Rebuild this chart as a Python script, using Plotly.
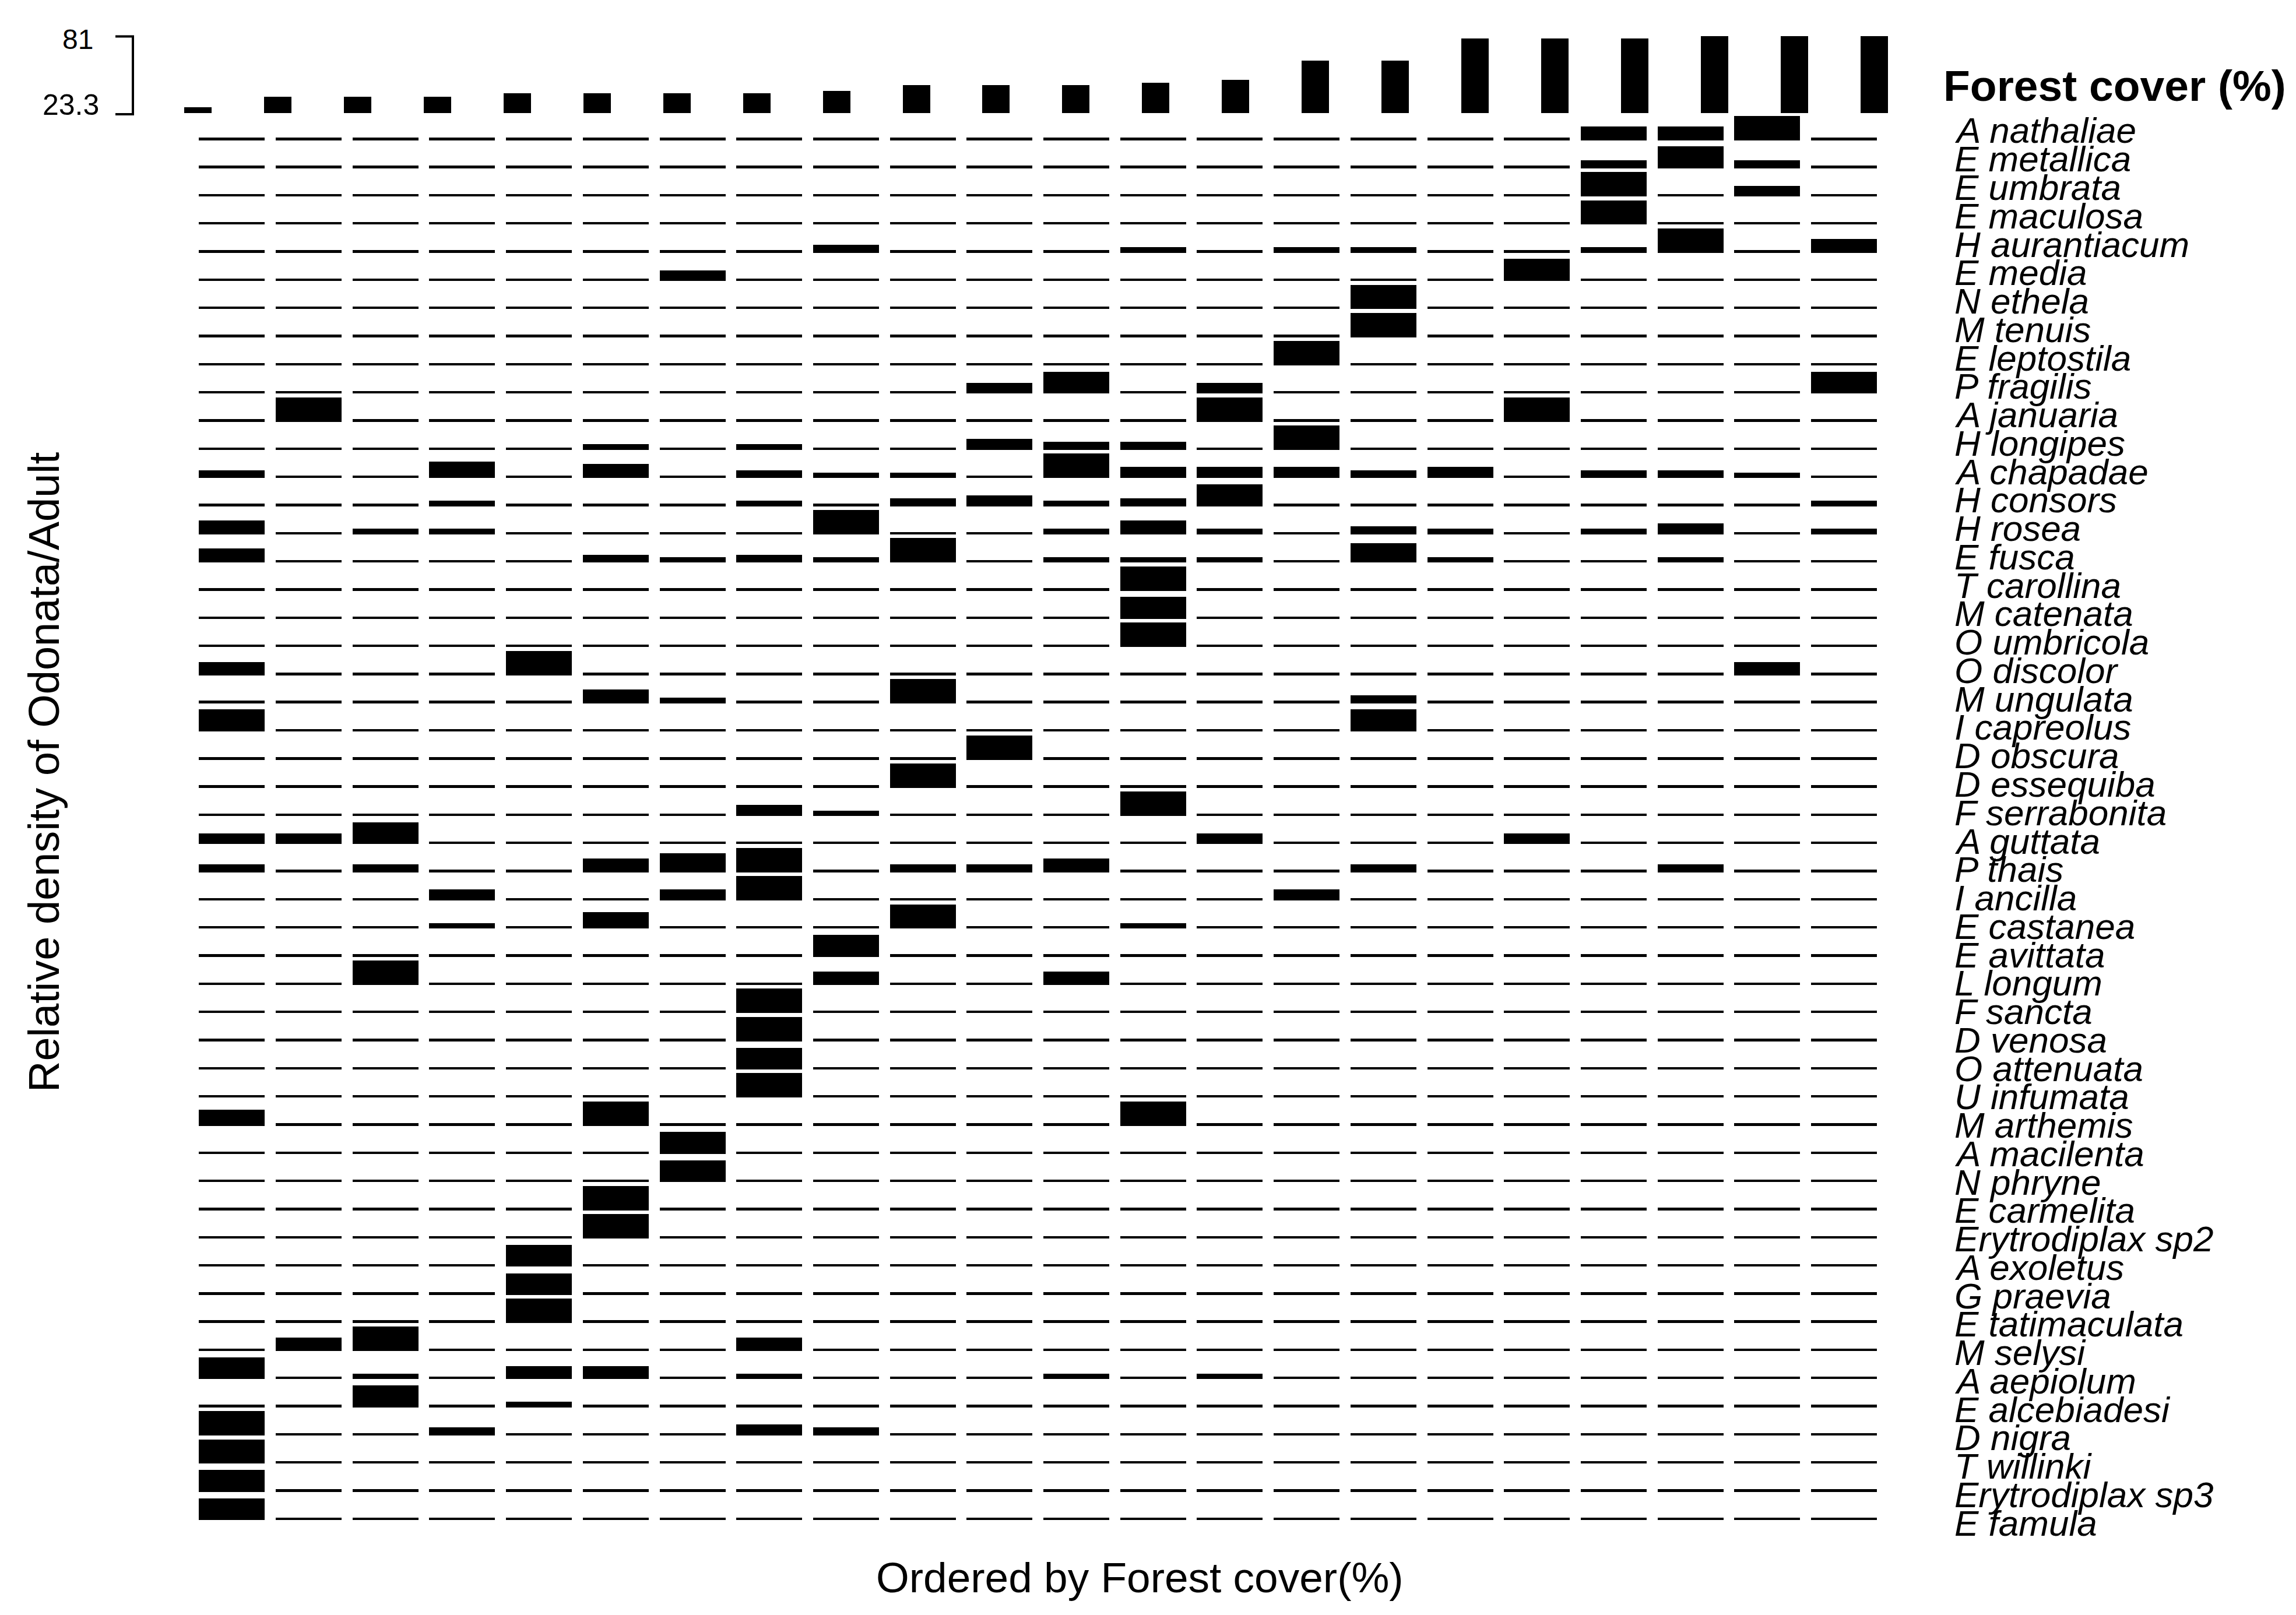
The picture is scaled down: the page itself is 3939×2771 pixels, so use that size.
import plotly.graph_objects as go

W, H = 3939, 2771          # browser window / reference size
OFF = 8                    # default body margin of the html page
FW, FH = W - 2 * OFF, H - 2 * OFF
FONT = "Liberation Sans, Arial, sans-serif"

# ---------------- data ----------------
site_index = list(range(22))  # sites ordered by forest cover

forest_cover = [23.3, 32.0, 32.0, 32.0, 34.4, 34.4, 34.4, 34.4, 36.5, 41.0, 41.0,
                41.0, 43.2, 45.5, 61.1, 61.1, 79.0, 79.0, 79.0, 81.0, 81.0, 81.0]

species = [
    "A nathaliae", "E metallica", "E umbrata", "E maculosa", "H aurantiacum",
    "E media", "N ethela", "M tenuis", "E leptostila", "P fragilis",
    "A januaria", "H longipes", "A chapadae", "H consors", "H rosea",
    "E fusca", "T carollina", "M catenata", "O umbricola", "O discolor",
    "M ungulata", "I capreolus", "D obscura", "D essequiba", "F serrabonita",
    "A guttata", "P thais", "I ancilla", "E castanea", "E avittata",
    "L longum", "F sancta", "D venosa", "O attenuata", "U infumata",
    "M arthemis", "A macilenta", "N phryne", "E carmelita", "Erytrodiplax sp2",
    "A exoletus", "G praevia", "E tatimaculata", "M selysi", "A aepiolum",
    "E alcebiadesi", "D nigra", "T willinki", "Erytrodiplax sp3", "E famula",
]

# relative density (fraction of the tallest bar) per species, 22 sites each
density = [
    [0, 0, 0, 0, 0, 0, 0, 0, 0, 0, 0, 0, 0, 0, 0, 0, 0, 0, .51, .51, 1, 0],        # A nathaliae
    [0, 0, 0, 0, 0, 0, 0, 0, 0, 0, 0, 0, 0, 0, 0, 0, 0, 0, .26, .89, .26, 0],      # E metallica
    [0, 0, 0, 0, 0, 0, 0, 0, 0, 0, 0, 0, 0, 0, 0, 0, 0, 0, 1, 0, .38, 0],          # E umbrata
    [0, 0, 0, 0, 0, 0, 0, 0, 0, 0, 0, 0, 0, 0, 0, 0, 0, 0, 1, 0, 0, 0],            # E maculosa
    [0, 0, 0, 0, 0, 0, 0, 0, .26, 0, 0, 0, .14, 0, .14, .14, 0, 0, .14, 1, 0, .51],  # H aurantiacum
    [0, 0, 0, 0, 0, 0, .37, 0, 0, 0, 0, 0, 0, 0, 0, 0, 0, .89, 0, 0, 0, 0],        # E media
    [0, 0, 0, 0, 0, 0, 0, 0, 0, 0, 0, 0, 0, 0, 0, 1, 0, 0, 0, 0, 0, 0],            # N ethela
    [0, 0, 0, 0, 0, 0, 0, 0, 0, 0, 0, 0, 0, 0, 0, 1, 0, 0, 0, 0, 0, 0],            # M tenuis
    [0, 0, 0, 0, 0, 0, 0, 0, 0, 0, 0, 0, 0, 0, 1, 0, 0, 0, 0, 0, 0, 0],            # E leptostila
    [0, 0, 0, 0, 0, 0, 0, 0, 0, 0, .38, .87, 0, .38, 0, 0, 0, 0, 0, 0, 0, .89],    # P fragilis
    [0, 1, 0, 0, 0, 0, 0, 0, 0, 0, 0, 0, 0, 1, 0, 0, 0, 1, 0, 0, 0, 0],            # A januaria
    [0, 0, 0, 0, 0, .14, 0, .14, 0, 0, .38, .26, .26, 0, 1, 0, 0, 0, 0, 0, 0, 0],  # H longipes
    [.25, 0, 0, .63, 0, .52, 0, .25, .14, .14, 0, 1, .39, .39, .39, .25, .39, 0, .25, .25, .14, 0],  # A chapadae
    [0, 0, 0, .14, 0, 0, 0, .14, 0, .26, .39, .14, .26, .89, 0, 0, 0, 0, 0, 0, 0, .14],  # H consors
    [.52, 0, .14, .14, 0, 0, 0, 0, 1, 0, 0, .14, .52, .14, 0, .25, .14, 0, .14, .38, 0, .14],  # H rosea
    [.52, 0, 0, 0, 0, .25, .14, .25, .14, 1, 0, .14, .14, .14, 0, .76, .14, 0, 0, .14, 0, 0],  # E fusca
    [0, 0, 0, 0, 0, 0, 0, 0, 0, 0, 0, 0, 1, 0, 0, 0, 0, 0, 0, 0, 0, 0],            # T carollina
    [0, 0, 0, 0, 0, 0, 0, 0, 0, 0, 0, 0, .89, 0, 0, 0, 0, 0, 0, 0, 0, 0],          # M catenata
    [0, 0, 0, 0, 0, 0, 0, 0, 0, 0, 0, 0, 1, 0, 0, 0, 0, 0, 0, 0, 0, 0],            # O umbricola
    [.49, 0, 0, 0, 1, 0, 0, 0, 0, 0, 0, 0, 0, 0, 0, 0, 0, 0, 0, 0, .49, 0],        # O discolor
    [0, 0, 0, 0, 0, .51, .14, 0, 0, 1, 0, 0, 0, 0, 0, .25, 0, 0, 0, 0, 0, 0],      # M ungulata
    [.89, 0, 0, 0, 0, 0, 0, 0, 0, 0, 0, 0, 0, 0, 0, .89, 0, 0, 0, 0, 0, 0],        # I capreolus
    [0, 0, 0, 0, 0, 0, 0, 0, 0, 0, 1, 0, 0, 0, 0, 0, 0, 0, 0, 0, 0, 0],            # D obscura
    [0, 0, 0, 0, 0, 0, 0, 0, 0, 1, 0, 0, 0, 0, 0, 0, 0, 0, 0, 0, 0, 0],            # D essequiba
    [0, 0, 0, 0, 0, 0, 0, .38, .13, 0, 0, 0, 1, 0, 0, 0, 0, 0, 0, 0, 0, 0],        # F serrabonita
    [.38, .38, .89, 0, 0, 0, 0, 0, 0, 0, 0, 0, 0, .38, 0, 0, 0, .38, 0, 0, 0, 0],  # A guttata
    [.25, 0, .25, 0, 0, .51, .75, 1, 0, .25, .25, .51, 0, 0, 0, .25, 0, 0, 0, .25, 0, 0],  # P thais
    [0, 0, 0, .38, 0, 0, .38, 1, 0, 0, 0, 0, 0, 0, .38, 0, 0, 0, 0, 0, 0, 0],      # I ancilla
    [0, 0, 0, .14, 0, .63, 0, 0, 0, 1, 0, 0, .14, 0, 0, 0, 0, 0, 0, 0, 0, 0],      # E castanea
    [0, 0, 0, 0, 0, 0, 0, 0, .89, 0, 0, 0, 0, 0, 0, 0, 0, 0, 0, 0, 0, 0],          # E avittata
    [0, 0, 1, 0, 0, 0, 0, 0, .51, 0, 0, .51, 0, 0, 0, 0, 0, 0, 0, 0, 0, 0],        # L longum
    [0, 0, 0, 0, 0, 0, 0, 1, 0, 0, 0, 0, 0, 0, 0, 0, 0, 0, 0, 0, 0, 0],            # F sancta
    [0, 0, 0, 0, 0, 0, 0, 1, 0, 0, 0, 0, 0, 0, 0, 0, 0, 0, 0, 0, 0, 0],            # D venosa
    [0, 0, 0, 0, 0, 0, 0, .87, 0, 0, 0, 0, 0, 0, 0, 0, 0, 0, 0, 0, 0, 0],          # O attenuata
    [0, 0, 0, 0, 0, 0, 0, 1, 0, 0, 0, 0, 0, 0, 0, 0, 0, 0, 0, 0, 0, 0],            # U infumata
    [.63, 0, 0, 0, 0, 1, 0, 0, 0, 0, 0, 0, 1, 0, 0, 0, 0, 0, 0, 0, 0, 0],          # M arthemis
    [0, 0, 0, 0, 0, 0, .89, 0, 0, 0, 0, 0, 0, 0, 0, 0, 0, 0, 0, 0, 0, 0],          # A macilenta
    [0, 0, 0, 0, 0, 0, .89, 0, 0, 0, 0, 0, 0, 0, 0, 0, 0, 0, 0, 0, 0, 0],          # N phryne
    [0, 0, 0, 0, 0, 1, 0, 0, 0, 0, 0, 0, 0, 0, 0, 0, 0, 0, 0, 0, 0, 0],            # E carmelita
    [0, 0, 0, 0, 0, 1, 0, 0, 0, 0, 0, 0, 0, 0, 0, 0, 0, 0, 0, 0, 0, 0],            # Erytrodiplax sp2
    [0, 0, 0, 0, .87, 0, 0, 0, 0, 0, 0, 0, 0, 0, 0, 0, 0, 0, 0, 0, 0, 0],          # A exoletus
    [0, 0, 0, 0, .87, 0, 0, 0, 0, 0, 0, 0, 0, 0, 0, 0, 0, 0, 0, 0, 0, 0],          # G praevia
    [0, 0, 0, 0, 1, 0, 0, 0, 0, 0, 0, 0, 0, 0, 0, 0, 0, 0, 0, 0, 0, 0],            # E tatimaculata
    [0, .51, 1, 0, 0, 0, 0, .51, 0, 0, 0, 0, 0, 0, 0, 0, 0, 0, 0, 0, 0, 0],        # M selysi
    [.89, 0, .13, 0, .49, .49, 0, .13, 0, 0, 0, .13, 0, .13, 0, 0, 0, 0, 0, 0, 0, 0],  # A aepiolum
    [0, 0, .89, 0, .14, 0, 0, 0, 0, 0, 0, 0, 0, 0, 0, 0, 0, 0, 0, 0, 0, 0],        # E alcebiadesi
    [1, 0, 0, .25, 0, 0, 0, .38, .25, 0, 0, 0, 0, 0, 0, 0, 0, 0, 0, 0, 0, 0],      # D nigra
    [1, 0, 0, 0, 0, 0, 0, 0, 0, 0, 0, 0, 0, 0, 0, 0, 0, 0, 0, 0, 0, 0],            # T willinki
    [.89, 0, 0, 0, 0, 0, 0, 0, 0, 0, 0, 0, 0, 0, 0, 0, 0, 0, 0, 0, 0, 0],          # Erytrodiplax sp3
    [.87, 0, 0, 0, 0, 0, 0, 0, 0, 0, 0, 0, 0, 0, 0, 0, 0, 0, 0, 0, 0, 0],          # E famula
]

x_title = "Ordered by Forest cover(%)"
y_title = "Relative density of Odonata/Adult"
gradient_title = "Forest cover (%)"

# ---------------- geometry helpers (page pixel -> paper) ----------------
def px(xp):
    return (xp - OFF) / FW


def py(yp):
    return 1 - (yp - OFF) / FH


ROW_PX = 48.32                      # pixel height of one species row
BASE_T = 4.4 / ROW_PX               # baseline thickness in row units
BAR_K = 37.5 / ROW_PX               # bar height per unit relative density
FOREST_FLOOR = 18.6                 # bottom of the forest-cover bars (axis units)

fig = go.Figure()

# forest-cover bars (top panel)
fig.add_trace(go.Bar(
    x=site_index,
    y=[v - FOREST_FLOOR for v in forest_cover],
    base=FOREST_FLOOR,
    width=0.343,
    marker=dict(color="black", line=dict(width=0)),
    xaxis="x", yaxis="y", hoverinfo="skip", showlegend=False,
))

# species bars (each row has its own baseline)
n = len(species)
xs, hs, bs = [], [], []
for i, row in enumerate(density):
    yb = n - 1 - i
    for j, v in enumerate(row):
        xs.append(site_index[j])
        hs.append(v * BAR_K + BASE_T)
        bs.append(yb - BASE_T / 2)
fig.add_trace(go.Bar(
    x=xs, y=hs, base=bs, width=0.858,
    marker=dict(color="black", line=dict(width=0)),
    xaxis="x2", yaxis="y2", hoverinfo="skip", showlegend=False,
))

hidden = dict(visible=False, showgrid=False, zeroline=False, fixedrange=True)
fig.update_layout(
    width=FW, height=FH,
    margin=dict(l=0, r=0, t=0, b=0),
    paper_bgcolor="white", plot_bgcolor="rgba(0,0,0,0)",
    barmode="overlay", bargap=0,
    showlegend=False,
    xaxis=dict(domain=[px(270.5), px(3283.4)], range=[-0.5, 21.5], anchor="y", **hidden),
    yaxis=dict(domain=[py(193.9), py(62.1)], range=[FOREST_FLOOR, max(forest_cover)], anchor="x", **hidden),
    xaxis2=dict(domain=[px(332.2), px(3229.6)], range=[-0.5, 21.5], anchor="y2", **hidden),
    yaxis2=dict(domain=[py(2654.5), py(190.3)], range=[-1, n], anchor="x2", **hidden),
    font=dict(family=FONT, color="black"),
)

ann = []
# species labels
for i, name in enumerate(species):
    ann.append(dict(
        text="<i>" + name + "</i>", x=px(3351), y=py(224 + 48.76 * i),
        xref="paper", yref="paper", xanchor="left", yanchor="middle",
        showarrow=False, font=dict(size=62, family=FONT, color="black"),
    ))
# gradient title
ann.append(dict(
    text="<b>" + gradient_title + "</b>", x=px(3332), y=py(146.5),
    xref="paper", yref="paper", xanchor="left", yanchor="middle",
    showarrow=False, font=dict(size=75, family=FONT, color="black"),
))
# min / max of gradient scale
ann.append(dict(
    text=f"{max(forest_cover):g}", x=px(162), y=py(67.5),
    xref="paper", yref="paper", xanchor="right", yanchor="middle",
    showarrow=False, font=dict(size=48, family=FONT, color="black"),
))
ann.append(dict(
    text=f"{min(forest_cover):g}", x=px(172), y=py(179.6),
    xref="paper", yref="paper", xanchor="right", yanchor="middle",
    showarrow=False, font=dict(size=50, family=FONT, color="black"),
))
# axis titles
ann.append(dict(
    text=x_title, x=px(1955), y=py(2706),
    xref="paper", yref="paper", xanchor="center", yanchor="middle",
    showarrow=False, font=dict(size=73, family=FONT, color="black"),
))
ann.append(dict(
    text=y_title, x=px(75), y=py(1325), textangle=-90,
    xref="paper", yref="paper", xanchor="center", yanchor="middle",
    showarrow=False, font=dict(size=74, family=FONT, color="black"),
))
fig.update_layout(annotations=ann)

# bracket for the gradient scale
line = dict(color="black", width=4)
fig.add_shape(type="line", xref="paper", yref="paper",
              x0=px(228), x1=px(228), y0=py(62.5), y1=py(196), line=line)
fig.add_shape(type="line", xref="paper", yref="paper",
              x0=px(198), x1=px(230), y0=py(62.5), y1=py(62.5), line=line)
fig.add_shape(type="line", xref="paper", yref="paper",
              x0=px(198), x1=px(230), y0=py(196), y1=py(196), line=line)

fig.write_html("out.html", config={"displayModeBar": False})
